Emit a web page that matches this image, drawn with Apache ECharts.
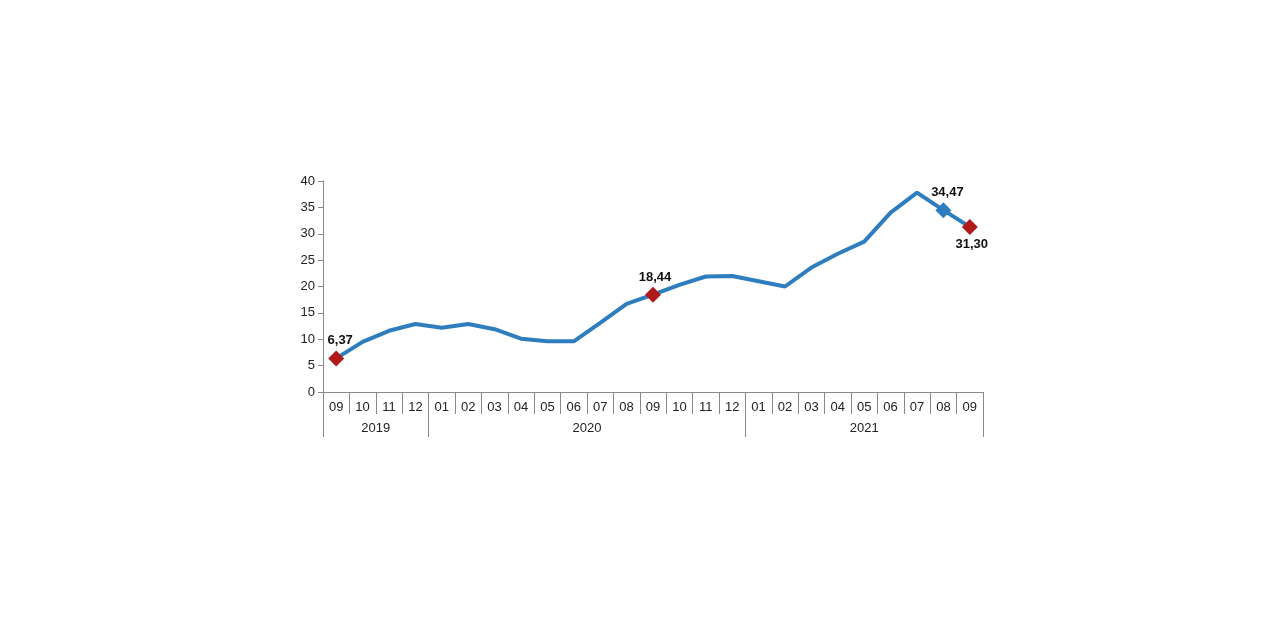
<!DOCTYPE html>
<html><head><meta charset="utf-8">
<script src="https://cdn.jsdelivr.net/npm/echarts@6/dist/echarts.min.js"></script>
<style>html,body{margin:0;padding:0;background:#fff}#c{width:1280px;height:640px}</style>
</head><body><div id="c"></div>
<script>
const months = ['09','10','11','12','01','02','03','04','05','06','07','08','09','10','11','12','01','02','03','04','05','06','07','08','09'];
const values = [6.37,9.5,11.6,12.9,12.2,12.9,11.9,10.1,9.6,9.6,13.1,16.7,18.44,20.3,21.9,22.0,21.0,20.0,23.6,26.2,28.5,34.0,37.8,34.47,31.30];
const yearNames = ['2019','2020','2021'];
const yearBounds = [0,4,16,25];
const yearCenters = [2,10,20.5];
const highlightRed = [0,12,24];
const highlightBlue = [23];
const labelBelow = [24];

const lineColor = '#2e7ebf';
const red = '#b01a1a';
const fontFam = '"Liberation Sans", Arial, sans-serif';

const data = values.map((v,i)=>{
  const item = {value:v};
  if (highlightRed.includes(i) || highlightBlue.includes(i)) {
    item.symbol = 'diamond';
    item.symbolSize = 16;
    item.itemStyle = {color: highlightRed.includes(i) ? red : lineColor};
    item.label = {show:true, position: labelBelow.includes(i)?'bottom':'top', distance: 3,
      offset: i===0 ? [4,0] : (i===23 ? [4,0] : [2,0]),
      formatter: v.toFixed(2).replace('.',','), fontWeight:'bold', fontSize:13, color:'#111', fontFamily:fontFam};
  }
  return item;
});

const chart = echarts.init(document.getElementById('c'));
chart.setOption({
  animation:false,
  grid:{left:323,right:297,top:181,bottom:248},
  xAxis:[{
    type:'category', data:months, boundaryGap:true, position:'bottom',
    axisLine:{show:true,lineStyle:{color:'#888',width:1}},
    axisTick:{show:true,interval:0,length:22,lineStyle:{color:'#888'}},
    axisLabel:{interval:0,color:'#222',fontSize:13,fontFamily:fontFam,margin:9}
  },{
    type:'value', min:0, max:25, position:'bottom', gridIndex:0,
    axisLine:{show:false},
    splitLine:{show:false},
    axisTick:{show:true,customValues:yearBounds,length:45,lineStyle:{color:'#888'}},
    axisLabel:{customValues:yearCenters,color:'#222',fontSize:13,fontFamily:fontFam,margin:30,
      formatter:(v)=>yearNames[yearCenters.indexOf(v)]}
  }],
  yAxis:{
    type:'value', min:0, max:40, interval:5,
    axisLine:{show:true,lineStyle:{color:'#888'}},
    axisTick:{show:true,length:5,lineStyle:{color:'#888'}},
    splitLine:{show:false},
    axisLabel:{color:'#222',fontSize:13,fontFamily:fontFam,margin:8}
  },
  series:[{
    type:'line', data:data, xAxisIndex:0,
    lineStyle:{color:lineColor,width:4},
    itemStyle:{color:lineColor},
    symbol:'none', showSymbol:true, showAllSymbol:true
  }]
});
</script></body></html>
